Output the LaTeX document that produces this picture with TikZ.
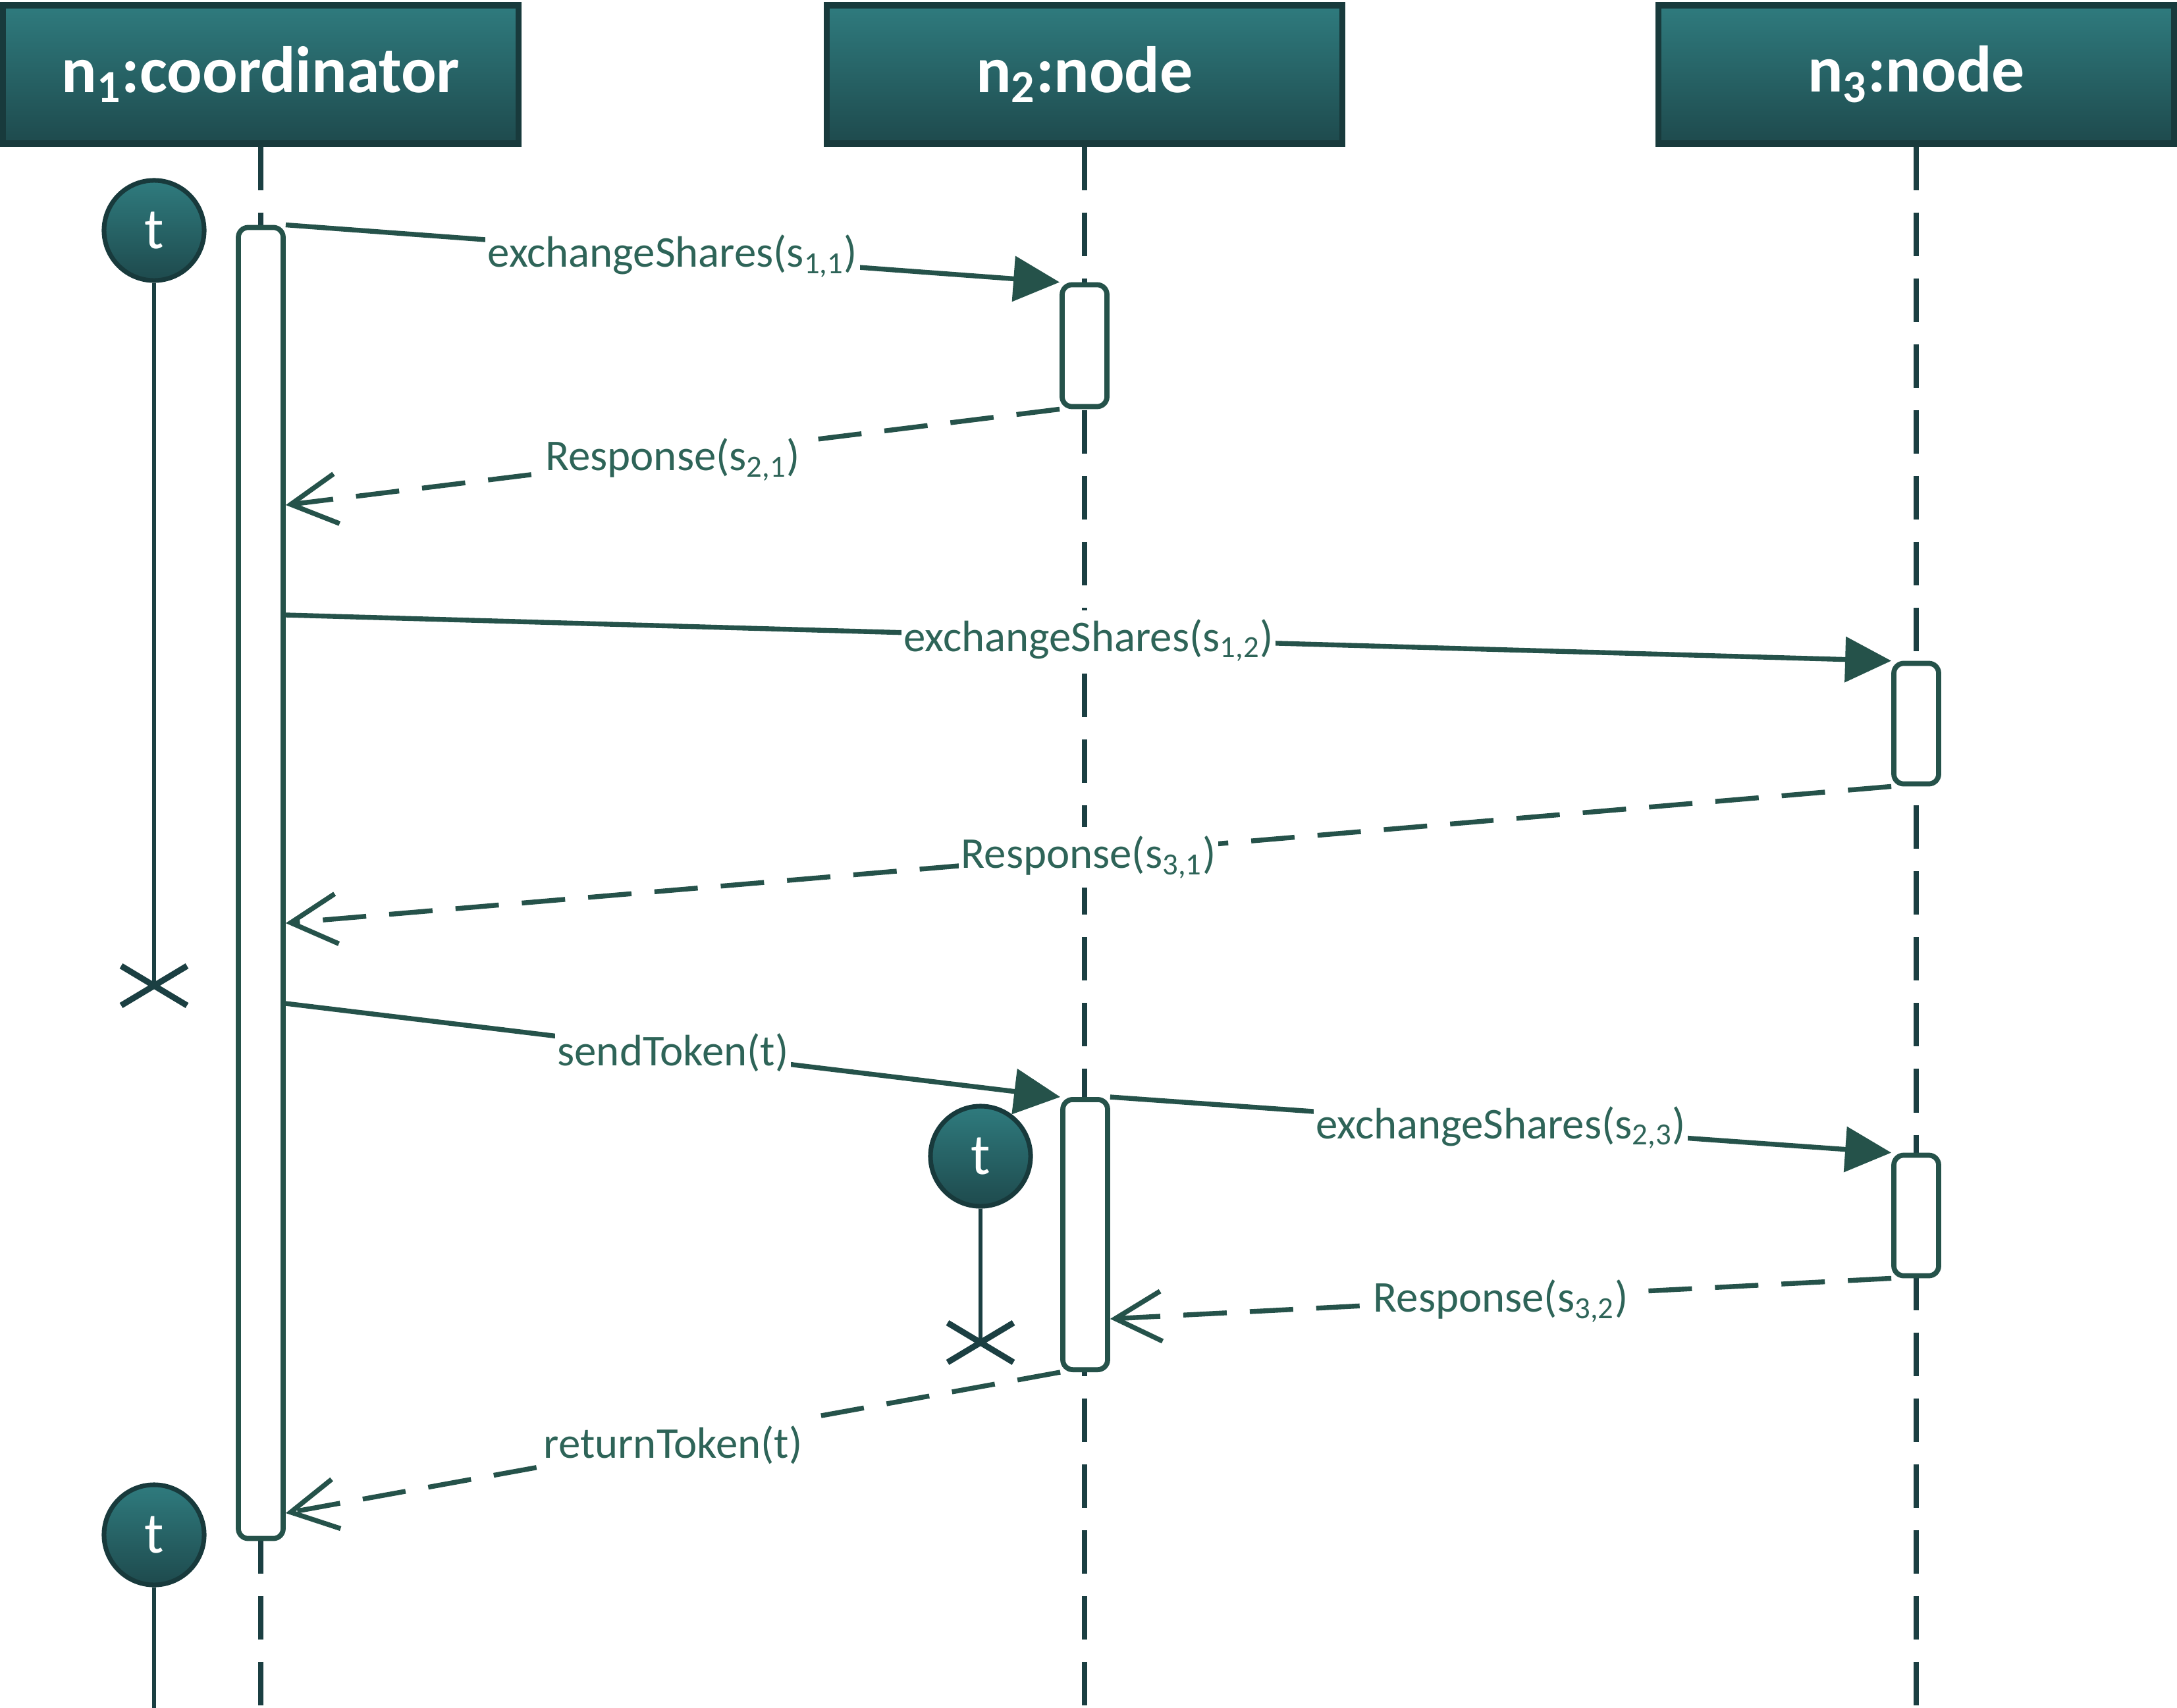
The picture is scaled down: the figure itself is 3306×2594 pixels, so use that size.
\documentclass[tikz,border=0pt]{standalone}
\usepackage{fontspec}
\setmainfont{Carlito}
\usetikzlibrary{arrows.meta,calc}

\definecolor{headtop}{HTML}{2F7B7E}
\definecolor{headbot}{HTML}{1E4A4D}
\definecolor{headline}{HTML}{183A3C}
\definecolor{msgline}{HTML}{25524A}
\definecolor{msgtext}{HTML}{2E6458}
\definecolor{lifecol}{HTML}{1B3F42}

\begin{document}
\begin{tikzpicture}[
  x=0.01cm, y=-0.01cm,
  head/.style={draw=headline, line width=2.6pt, top color=headtop, bottom color=headbot,
    text=white, font=\bfseries\fontsize{28.4}{34}\selectfont,
    minimum width=7.82cm, minimum height=2.1cm},
  life/.style={draw=lifecol, line width=2.4pt, dash pattern=on 0.66cm off 0.34cm},
  act/.style={draw=msgline, fill=white, line width=2.2pt, rounded corners=0.15cm,
    minimum width=0.68cm, inner sep=0pt},
  token/.style={circle, draw=headline, line width=2pt, top color=headtop, bottom color=headbot,
    text=white, font=\fontsize{25}{30}\selectfont, minimum size=1.52cm, inner sep=0pt},
  tokenline/.style={draw=lifecol, line width=1.9pt},
  kill/.style={draw=lifecol, line width=2.6pt},
  call/.style={draw=msgline, line width=2.1pt, -{Triangle[length=7mm, width=6.8mm]}},
  reply/.style={draw=msgline, line width=2.1pt, dash pattern=on 0.66cm off 0.35cm,
    -{Straight Barb[length=7mm, width=7.6mm]}},
  msg/.style={fill=white, text=msgtext, font=\fontsize{19}{23}\selectfont,
    inner xsep=1pt, inner ysep=4pt, yshift=-0.04cm}
]
\useasboundingbox (0,0) rectangle (3306,2594);

% Lifeline heads.
\node[head] (n1) at (396,113) {n\textsubscript{1}:coordinator};
\node[head] (n2) at (1647,113) {n\textsubscript{2}:node};
\node[head] (n3) at (2910,113) {n\textsubscript{3}:node};

% Dashed lifelines.
\foreach \n in {n1,n2,n3}
  \draw[life] (\n.south) -- (\n.south |- 0,2594);

% Tokens and their lines.
\node[token] (t1) at (234,350) {t};
\node[token] (t2) at (1489,1756) {t};
\node[token] (t3) at (234,2331) {t};
\coordinate (x1) at (234,1497);
\coordinate (x2) at (1489,2039);
\coordinate (tend) at (234,2594);
\draw[tokenline] (t1.south) -- (x1);
\draw[tokenline] (t2.south) -- (x2);
\draw[tokenline] (t3.south) -- (tend);
\draw[kill] (x1) ++(-50,-30) -- ++(100,60) (x1) ++(50,-30) -- ++(-100,60);
\draw[kill] (x2) ++(-50,-30) -- ++(100,60) (x2) ++(50,-30) -- ++(-100,60);

% Activation bars.
\node[act, minimum height=19.9cm] (a1) at (396,1341) {};
\node[act, minimum height=1.85cm] (a2) at (1647,525) {};
\node[act, minimum height=1.83cm] (a3) at (2910,1099) {};
\node[act, minimum height=4.1cm] (a4) at (1648,1875) {};
\node[act, minimum height=1.83cm] (a5) at (2910,1846) {};

% Message ends on the bars.
\coordinate (r1) at (a1.east |- 0,767);
\coordinate (s2) at (a1.east |- 0,934);
\coordinate (r2) at (a1.east |- 0,1402);
\coordinate (s3) at (a1.east |- 0,1524);
\coordinate (r3) at (a4.east |- 0,2003);
\coordinate (r4) at (a1.east |- 0,2298);

% Messages.
\draw[call] (a1.north east) -- node[msg] {exchangeShares(s\textsubscript{1,1})} (a2.north west);
\draw[reply] (a2.south west) -- node[msg] {Response(s\textsubscript{2,1})} (r1);
\draw[call] (s2) -- node[msg] {exchangeShares(s\textsubscript{1,2})} (a3.north west);
\draw[reply] (a3.south west) -- node[msg] {Response(s\textsubscript{3,1})} (r2);
\draw[call] (s3) -- node[msg] {sendToken(t)} (a4.north west);
\draw[call] (a4.north east) -- node[msg] {exchangeShares(s\textsubscript{2,3})} (a5.north west);
\draw[reply] (a5.south west) -- node[msg] {Response(s\textsubscript{3,2})} (r3);
\draw[reply] (a4.south west) -- node[msg] {returnToken(t)} (r4);

\end{tikzpicture}
\end{document}
